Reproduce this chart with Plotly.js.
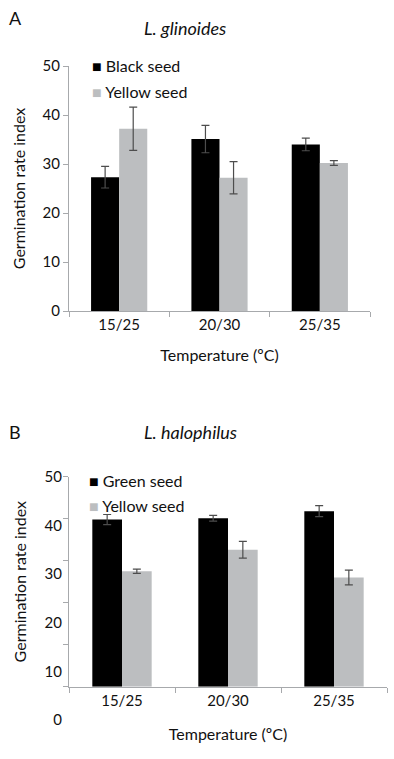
<!DOCTYPE html>
<html>
<head>
<meta charset="utf-8">
<script src="https://cdn.plot.ly/plotly-3.0.1.min.js"></script>
<style>html,body{margin:0;padding:0;background:#fff;}#chart{width:394px;height:759px;}</style>
</head>
<body>
<div id="chart"></div>
<script>
// ---- data ----
const categories = ['15/25', '20/30', '25/35'];

const seriesA1Name = 'Black seed';
const seriesA1 = [27.3, 35.1, 34.0];
const seriesA1Err = [2.2, 2.8, 1.3];
const seriesA2Name = 'Yellow seed';
const seriesA2 = [37.2, 27.2, 30.2];
const seriesA2Err = [4.4, 3.3, 0.5];

const seriesB1Name = 'Green seed';
const seriesB1 = [39.8, 40.1, 41.8];
const seriesB1Err = [1.2, 0.7, 1.3];
const seriesB2Name = 'Yellow seed';
const seriesB2 = [27.5, 32.6, 26.0];
const seriesB2Err = [0.5, 2.0, 1.75];

const yTicks = [0, 10, 20, 30, 40, 50];
const yTickLabels = ['0', '10', '20', '30', '40', '50'];

// ---- styles ----
const FONT = 'Lato, "Open Sans", sans-serif';
const DARK = '#000000';
const GREY = '#bcbec0';
const AXIS = '#a7a9ac';
const ERR = '#4d4d4d';
const H = 759, W = 394;
const py = p => 1 - p / H;
const px = p => p / W;

function bar(name, y, err, color, xa, ya) {
  return {
    type: 'bar', name: name, x: categories, y: y, xaxis: xa, yaxis: ya,
    marker: {color: color, line: {width: 0}},
    error_y: {type: 'data', array: err, visible: true, color: ERR, thickness: 1.2, width: 4},
    showlegend: false, hoverinfo: 'skip'
  };
}

const data = [
  bar(seriesA1Name, seriesA1, seriesA1Err, DARK, 'x', 'y'),
  bar(seriesA2Name, seriesA2, seriesA2Err, GREY, 'x', 'y'),
  bar(seriesB1Name, seriesB1, seriesB1Err, DARK, 'x2', 'y2'),
  bar(seriesB2Name, seriesB2, seriesB2Err, GREY, 'x2', 'y2'),
  // carrier for the (offset) tick-label axis of panel B
  {type: 'scatter', mode: 'markers', x: [], y: [], xaxis: 'x3', yaxis: 'y3', showlegend: false, hoverinfo: 'skip'}
];

const tickFont = {family: FONT, size: 15, color: '#111'};
const titleFont = {family: FONT, size: 16, color: '#111'};

function xaxisDef(domain, anchor, standoff) {
  return {
    domain: domain, anchor: anchor, type: 'category',
    showline: true, linecolor: AXIS, linewidth: 1,
    ticks: 'outside', tickson: 'boundaries', ticklen: 5, tickcolor: AXIS, tickwidth: 1,
    showgrid: false, zeroline: false, tickfont: tickFont,
    title: {text: 'Temperature (ºC)', font: titleFont, standoff: standoff}
  };
}

const layout = {
  width: W, height: H,
  margin: {l: 0, r: 0, t: 0, b: 0},
  paper_bgcolor: '#ffffff', plot_bgcolor: 'rgba(0,0,0,0)',
  barmode: 'group', bargap: 0.44, bargroupgap: 0,
  showlegend: false,
  font: {family: FONT, color: '#111'},
  xaxis: xaxisDef([px(69), px(370)], 'y', 17),
  yaxis: {
    domain: [py(311), py(66)], anchor: 'x', range: [0, 50],
    tickvals: yTicks, ticktext: yTickLabels,
    showline: true, linecolor: AXIS, linewidth: 1,
    ticks: 'outside', ticklen: 5, tickcolor: AXIS, showgrid: false, zeroline: false,
    tickfont: tickFont,
    title: {text: 'Germination rate index', font: titleFont, standoff: 12}
  },
  xaxis2: xaxisDef([px(69), px(387)], 'y2', 21),
  yaxis2: {
    domain: [py(686.7), py(476.7)], anchor: 'x2', range: [0, 50],
    tickvals: yTicks,
    showline: true, linecolor: AXIS, linewidth: 1,
    ticks: 'outside', ticklen: 5, tickcolor: AXIS, showgrid: false, zeroline: false,
    showticklabels: false,
    title: {text: 'Germination rate index', font: titleFont, standoff: 32}
  },
  xaxis3: {domain: [px(69), px(387)], anchor: 'y3', visible: false, range: [0, 1]},
  yaxis3: {
    domain: [py(720), py(477)], anchor: 'x3', range: [0, 50],
    tickvals: yTicks, ticktext: yTickLabels,
    showline: false, ticks: '', showgrid: false, zeroline: false,
    tickfont: tickFont, ticklabelstandoff: 6
  },
  annotations: [
    {text: 'A', xref: 'paper', yref: 'paper', x: px(7), y: py(18), xanchor: 'left', yanchor: 'middle', showarrow: false, font: {family: FONT, size: 18, color: '#111'}},
    {text: '<i>L. glinoides</i>', xref: 'paper', yref: 'paper', x: px(185), y: py(28), xanchor: 'center', yanchor: 'middle', showarrow: false, font: {family: FONT, size: 18, color: '#111'}},
    {text: '<span style="color:' + DARK + '">■</span> ' + seriesA1Name, xref: 'paper', yref: 'paper', x: px(90), y: py(66), xanchor: 'left', yanchor: 'middle', showarrow: false, font: {family: FONT, size: 16, color: '#111'}},
    {text: '<span style="color:' + GREY + '">■</span> ' + seriesA2Name, xref: 'paper', yref: 'paper', x: px(90), y: py(91), xanchor: 'left', yanchor: 'middle', showarrow: false, font: {family: FONT, size: 16, color: '#111'}},
    {text: 'B', xref: 'paper', yref: 'paper', x: px(7), y: py(432), xanchor: 'left', yanchor: 'middle', showarrow: false, font: {family: FONT, size: 18, color: '#111'}},
    {text: '<i>L. halophilus</i>', xref: 'paper', yref: 'paper', x: px(190), y: py(432), xanchor: 'center', yanchor: 'middle', showarrow: false, font: {family: FONT, size: 18, color: '#111'}},
    {text: '<span style="color:' + DARK + '">■</span> ' + seriesB1Name, xref: 'paper', yref: 'paper', x: px(87), y: py(480), xanchor: 'left', yanchor: 'middle', showarrow: false, font: {family: FONT, size: 16, color: '#111'}},
    {text: '<span style="color:' + GREY + '">■</span> ' + seriesB2Name, xref: 'paper', yref: 'paper', x: px(87), y: py(505), xanchor: 'left', yanchor: 'middle', showarrow: false, font: {family: FONT, size: 16, color: '#111'}}
  ]
};

Plotly.newPlot('chart', data, layout, {staticPlot: true, displayModeBar: false});
</script>
</body>
</html>
